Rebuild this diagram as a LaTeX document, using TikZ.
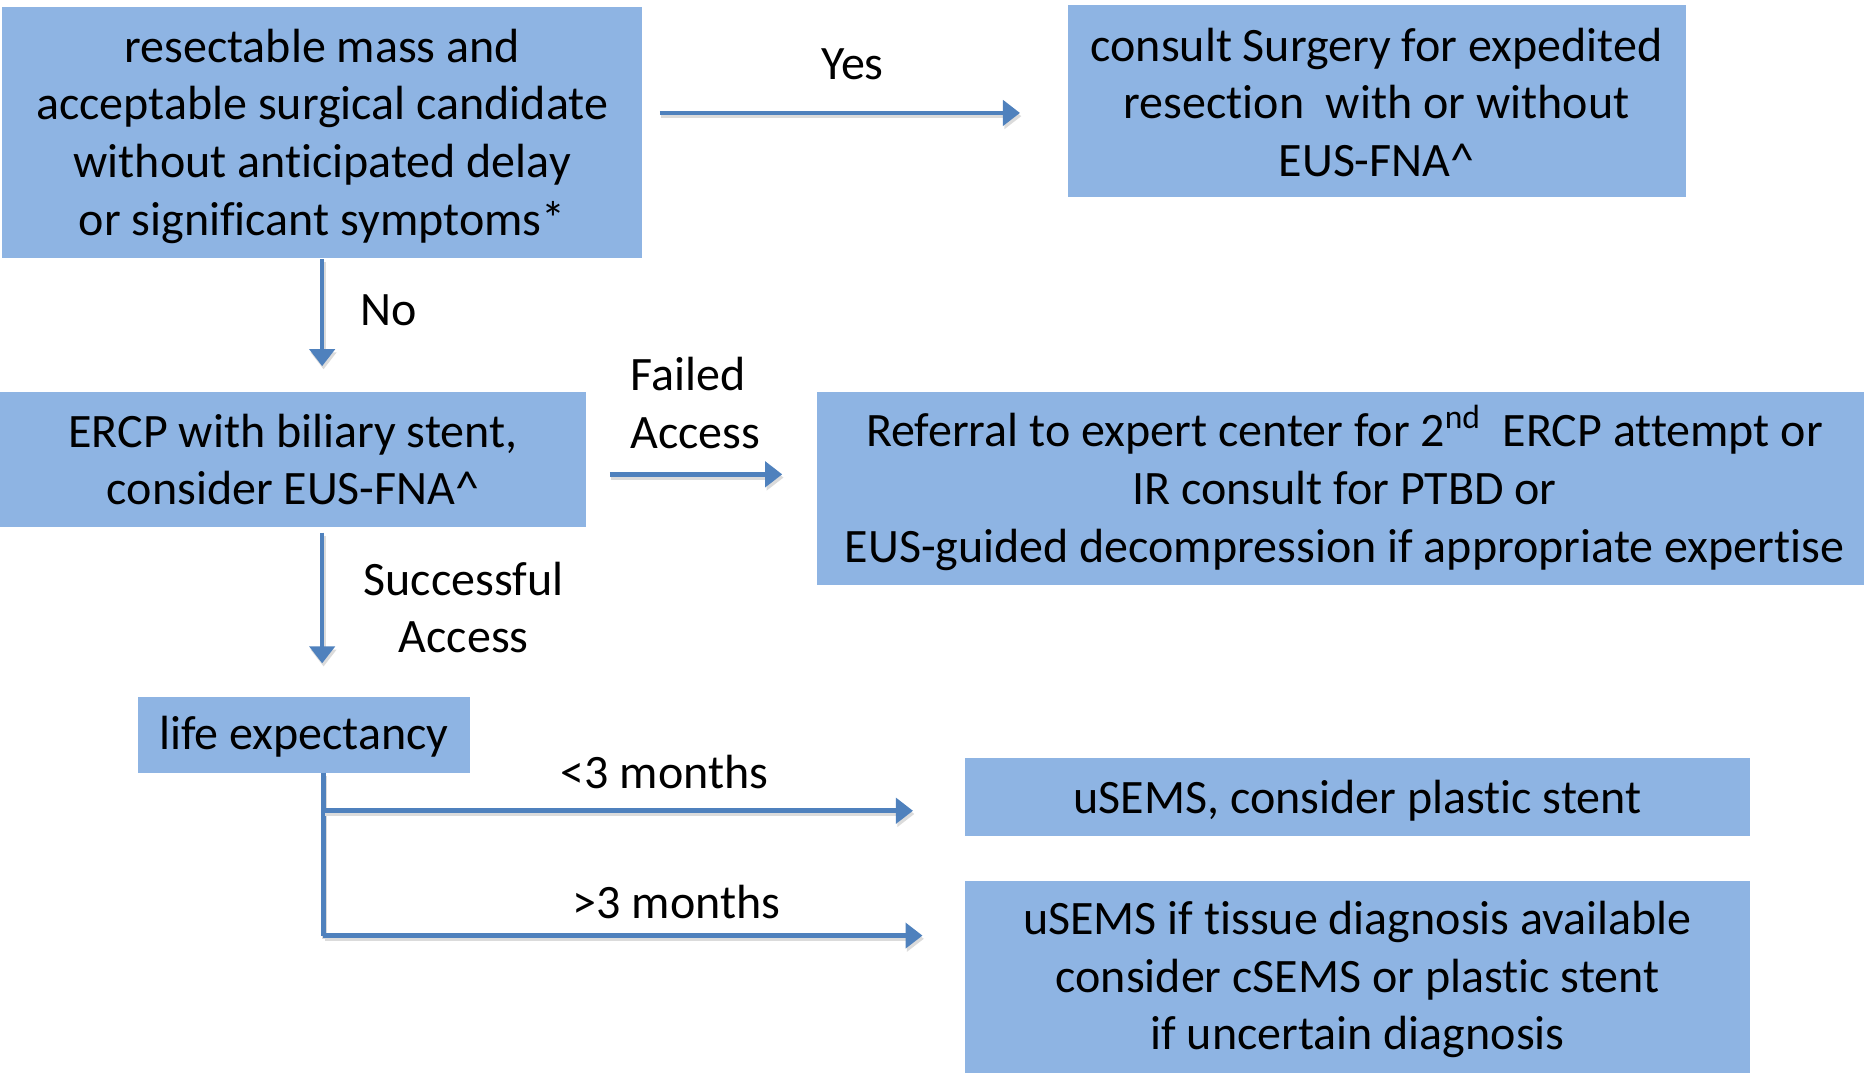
\documentclass[tikz,border=0pt]{standalone}
\usepackage{fontspec}
\setmainfont[Ligatures={NoCommon}]{Carlito}
\usetikzlibrary{arrows.meta,calc}
\def\dpx{0.59439pt}
\definecolor{boxfill}{HTML}{8EB4E3}
\definecolor{linecol}{HTML}{4F81BD}
\tikzset{
  box/.style={rectangle, fill=boxfill, inner sep=0pt, outer sep=0pt},
  boxtxt/.style={inner sep=0pt, align=center, font=\fontsize{24}{28.8}\selectfont},
  lbl/.style={inner sep=0pt, font=\fontsize{24}{28.8}\selectfont},
  shad/.style={preaction={draw=black!14, line width=2.3pt, transform canvas={shift={(0.7pt,-1.6pt)}}}},
  arr/.style={draw=linecol, line width=2.3pt,
    -{Triangle[length=8.5pt,width=12.5pt]}, shad},
  ln/.style={draw=linecol, line width=2.3pt, shad}
}
\begin{document}
\begin{tikzpicture}[x=\dpx, y=-\dpx]
\useasboundingbox (0,0) rectangle (1568,903.4);
% boxes
\node[box, minimum width=538*\dpx, minimum height=211*\dpx] (b1) at (271,111.5) {};
\node[boxtxt] (b1t) at ([yshift=-3*\dpx]b1.center)
  {resectable mass and\\acceptable surgical candidate\\without anticipated delay\\or significant symptoms*};
\node[box, minimum width=520*\dpx, minimum height=162*\dpx] (b2) at (1158,85) {};
\node[boxtxt] (b2t) at ([yshift=-1*\dpx]b2.center)
  {consult Surgery for expedited\\resection\ \ with or without\\EUS-FNA\textasciicircum};
\node[box, minimum width=493*\dpx, minimum height=113*\dpx] (b3) at (246.5,386.5) {};
\node[boxtxt] (b3t) at (b3.center)
  {ERCP with biliary stent,\\consider EUS-FNA\textasciicircum};
\node[box, minimum width=881*\dpx, minimum height=162*\dpx] (b4) at (1127.5,411) {};
\node[boxtxt] (b4t) at (1131,410.5)
  {Referral to expert center for 2\textsuperscript{nd}\ \ ERCP attempt or\\IR consult for PTBD or\\EUS-guided decompression if appropriate expertise};
\node[box, minimum width=279*\dpx, minimum height=64*\dpx] (b5) at (255.5,618) {};
\node[boxtxt] (b5t) at ([yshift=-2*\dpx]b5.center) {life expectancy};
\node[box, minimum width=660*\dpx, minimum height=65*\dpx] (b6) at (1142,670.5) {};
\node[boxtxt] (b6t) at ([yshift=-3*\dpx]b6.center) {uSEMS, consider plastic stent};
\node[box, minimum width=660*\dpx, minimum height=162*\dpx] (b7) at (1142,822) {};
\node[boxtxt] (b7t) at ([yshift=-2*\dpx]b7.center)
  {uSEMS if tissue diagnosis available\\consider cSEMS or plastic stent\\if uncertain diagnosis};
% labels
\node[lbl] (yes) at (717,54) {Yes};
\node[lbl] (no) at (327,261) {No};
\node[lbl, align=left, anchor=west] (fa) at (530,339) {Failed\\Access};
\node[lbl, align=center] (sa) at (390,511) {Successful\\Access};
\node[lbl] (lt3) at (559,649) {<3 months};
\node[lbl] (gt3) at (569,759) {>3 months};
% connectors
\coordinate (yl) at (0,95);
\draw[arr, shorten <=15*\dpx, shorten >=40*\dpx] (b1.east |- yl) -- (b2.west |- yl);
\coordinate (nx) at (271,0);
\draw[arr, shorten <=1*\dpx, shorten >=22*\dpx] (b1.south -| nx) -- (b3.north -| nx);
\coordinate (fl) at (0,399);
\draw[arr, shorten <=20*\dpx, shorten >=29*\dpx] (b3.east |- fl) -- (b4.west |- fl);
\draw[arr, shorten <=5*\dpx, shorten >=28*\dpx] (b3.south -| nx) -- (b5.north -| nx);
\coordinate (tx) at (272,0);
\coordinate (j1) at (272,682);
\coordinate (j2) at (272,787);
\draw[ln] (b5.south -| tx) -- (j2);
\draw[arr, shorten >=36*\dpx] (j2) -- (b7.west |- j2);
\draw[arr, shorten >=44*\dpx] (j1) -- (b6.west |- j1);
\end{tikzpicture}
\end{document}
